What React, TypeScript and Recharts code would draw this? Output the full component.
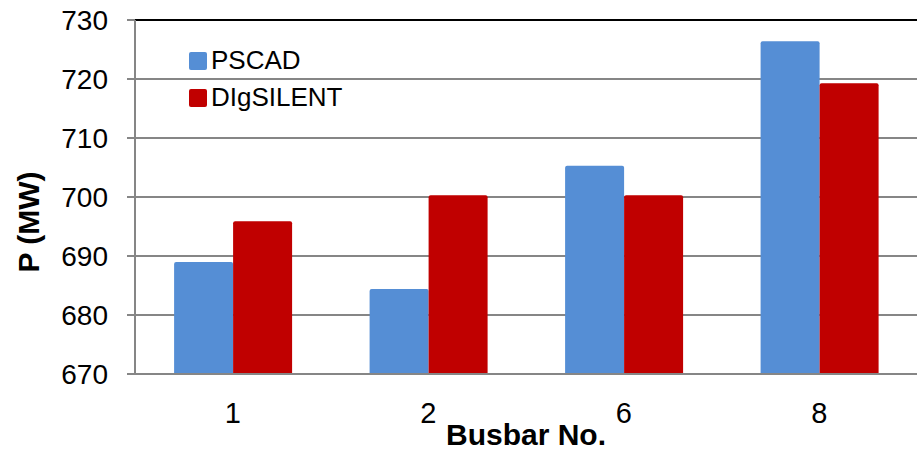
import React from "react"
import {
  BarChart,
  Bar,
  XAxis,
  YAxis,
  CartesianGrid,
  ReferenceLine,
} from "recharts"

const busbars = ["1", "2", "6", "8"]
const pscad = [689.0, 684.4, 705.3, 726.4]
const digsilent = [695.9, 700.3, 700.3, 719.3]
const yTicks = [670, 680, 690, 700, 710, 720, 730]

const FONT = "'Liberation Sans', Arial, sans-serif"
const BLUE = "#558ED5"
const RED = "#C00000"
const GRID = "#868686"

const data = busbars.map((b, i) => ({
  bus: b,
  PSCAD: pscad[i],
  DIgSILENT: digsilent[i],
}))

const legendItems = [
  { name: "PSCAD", color: BLUE },
  { name: "DIgSILENT", color: RED },
]

// value labels end well clear of the short tick marks
const renderYTick = (props: any) => (
  <text
    key={props.payload.value}
    x={props.x - 17}
    y={props.y}
    textAnchor="end"
    dominantBaseline="central"
    fontFamily={FONT}
    fontSize={28}
    fill="#000"
  >
    {props.payload.value}
  </text>
)

const renderXTick = (props: any) => (
  <text
    key={props.payload.value}
    x={props.x}
    y={423}
    textAnchor="middle"
    fontFamily={FONT}
    fontSize={29}
    fill="#000"
  >
    {props.payload.value}
  </text>
)

export default function App() {
  return (
    <div style={{ position: "absolute", left: 0, top: 0, background: "#fff" }}>
      <BarChart
        width={917}
        height={453}
        data={data}
        margin={{ top: 20, right: 0, left: 0, bottom: 49 }}
        barCategoryGap="20%"
        barGap={0}
      >
        <CartesianGrid vertical={false} stroke={GRID} strokeWidth={2} />
        <XAxis
          dataKey="bus"
          height={30}
          tickLine={false}
          axisLine={{ stroke: GRID, strokeWidth: 2 }}
          tick={renderXTick}
          label={({ viewBox }: any) => (
            <text
              x={viewBox.x + viewBox.width / 2}
              y={445}
              textAnchor="middle"
              fontFamily={FONT}
              fontSize={30}
              fontWeight="bold"
              fill="#000"
            >
              Busbar No.
            </text>
          )}
        />
        <YAxis
          width={135}
          domain={[670, 730]}
          ticks={yTicks}
          allowDataOverflow
          tickSize={8}
          tickLine={{ stroke: GRID, strokeWidth: 2 }}
          axisLine={{ stroke: GRID, strokeWidth: 2 }}
          tick={renderYTick}
          label={() => (
            <text
              x={28}
              y={222}
              transform="rotate(-90 28 222)"
              textAnchor="middle"
              dominantBaseline="central"
              fontFamily={FONT}
              fontSize={30}
              fontWeight="bold"
              fill="#000"
            >
              P (MW)
            </text>
          )}
        />
        <ReferenceLine y={730} stroke="#000" strokeWidth={2} />
        <Bar
          dataKey="PSCAD"
          fill={BLUE}
          radius={[2, 2, 0, 0]}
          isAnimationActive={false}
        />
        <Bar
          dataKey="DIgSILENT"
          fill={RED}
          radius={[2, 2, 0, 0]}
          isAnimationActive={false}
        />
      </BarChart>
      <div
        style={{
          position: "absolute",
          left: 189,
          top: 42,
          fontFamily: FONT,
          fontSize: 26,
          color: "#000",
        }}
      >
        {legendItems.map((item) => (
          <div
            key={item.name}
            style={{ display: "flex", alignItems: "center", height: 37 }}
          >
            <span
              style={{
                display: "inline-block",
                width: 18,
                height: 18,
                background: item.color,
                borderRadius: 2,
                marginRight: 4,
              }}
            />
            <span>{item.name}</span>
          </div>
        ))}
      </div>
    </div>
  )
}
